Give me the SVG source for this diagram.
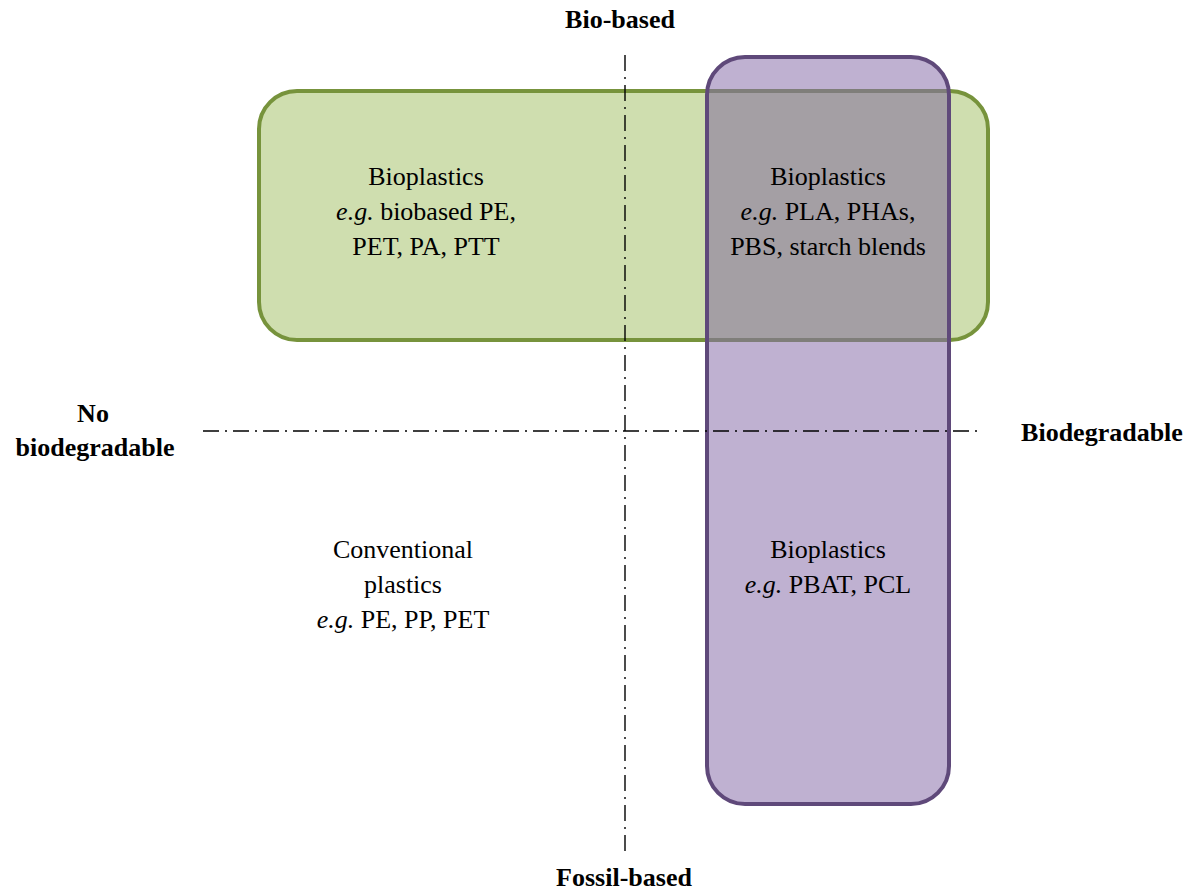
<svg xmlns="http://www.w3.org/2000/svg" width="1195" height="892" viewBox="0 0 1195 892">
<style>
text{font-family:"Liberation Serif","Times New Roman",serif;font-size:26px;fill:#000;text-anchor:middle}
.b{font-weight:bold}
.i{font-style:italic}
.axis{stroke:#000;stroke-width:1.4;stroke-dasharray:16 6 2 6;fill:none}
</style>
<defs>
<clipPath id="pclip"><rect x="707" y="57" width="242" height="747" rx="38"/></clipPath>
</defs>
<rect width="1195" height="892" fill="#fff"/>
<g id="green">
<rect x="259" y="91" width="729" height="249" rx="38" fill="#CFDEAF" stroke="#77933C" stroke-width="4"/>
</g>
<g id="purple">
<rect x="707" y="57" width="242" height="747" rx="38" fill="#BFB1D1"/>
<g clip-path="url(#pclip)">
<rect x="659" y="91" width="329" height="249" fill="#A49FA4" stroke="#7F7E7A" stroke-width="4"/>
<rect x="259" y="91" width="729" height="249" rx="38" fill="none" stroke="#7F7E7A" stroke-width="4"/>
</g>
<rect x="707" y="57" width="242" height="747" rx="38" fill="none" stroke="#5F497A" stroke-width="4"/>
</g>
<g id="connectors">
<line class="axis" x1="625" y1="55" x2="625" y2="856"/>
<line class="axis" x1="203" y1="431" x2="982" y2="431"/>
</g>
<g id="label-topleft">
<text x="426" y="185">Bioplastics</text>
<text x="426" y="220"><tspan class="i">e.g.</tspan> biobased PE,</text>
<text x="426" y="255">PET, PA, PTT</text>
</g>
<g id="label-topright">
<text x="828" y="185">Bioplastics</text>
<text x="828" y="220"><tspan class="i">e.g.</tspan> PLA, PHAs,</text>
<text x="828" y="255">PBS, starch blends</text>
</g>
<g id="label-bottomleft">
<text x="403" y="558">Conventional</text>
<text x="403" y="593">plastics</text>
<text x="403" y="628"><tspan class="i">e.g.</tspan> PE, PP, PET</text>
</g>
<g id="label-bottomright">
<text x="828" y="558">Bioplastics</text>
<text x="828" y="593"><tspan class="i">e.g.</tspan> PBAT, PCL</text>
</g>
<g id="axis-labels">
<text class="b" x="620" y="28">Bio-based</text>
<text class="b" x="624" y="886">Fossil-based</text>
<text class="b" x="93" y="422">No</text>
<text class="b" x="95" y="456">biodegradable</text>
<text class="b" x="1102" y="441">Biodegradable</text>
</g>
</svg>
